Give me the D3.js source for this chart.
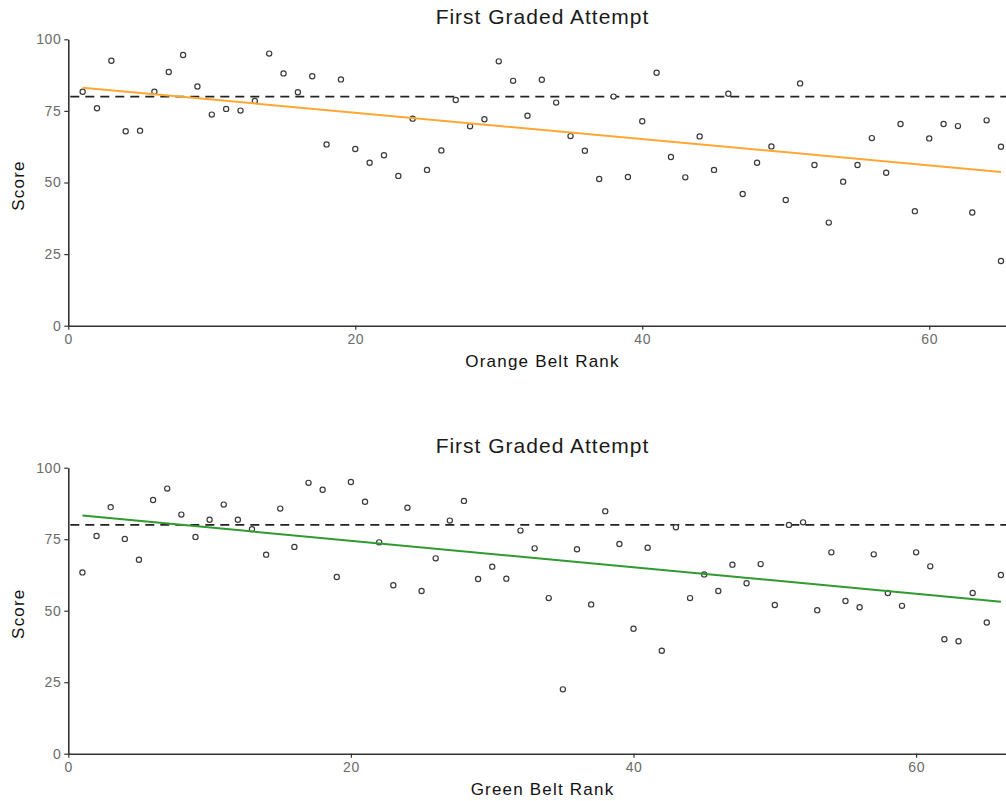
<!DOCTYPE html>
<html>
<head>
<meta charset="utf-8">
<script src="https://cdn.jsdelivr.net/npm/d3@7"></script>
<style>
    body { margin: 0; background: #fff; }
    svg { display: block; font-family: "Liberation Sans", Arial, sans-serif; }
</style>
</head>
<body>
<div id="chart"></div>
<script>
// Data
const orangeRank = [1, 2, 3, 4, 5, 6, 7, 8, 9, 10, 11, 12, 13, 14, 15, 16, 17, 18, 19, 20,
    21, 22, 23, 24, 25, 26, 27, 28, 29, 30, 31, 32, 33, 34, 35, 36, 37, 38, 39, 40,
    41, 42, 43, 44, 45, 46, 47, 48, 49, 50, 51, 52, 53, 54, 55, 56, 57, 58, 59, 60,
    61, 62, 63, 64, 65, 65];
const orangeScore = [81.7, 75.9, 92.5, 67.9, 68.1, 81.7, 88.6, 94.5, 83.5, 73.7,
    75.7, 75.1, 78.5, 95.0, 88.1, 81.5, 87.1, 63.3, 86.0, 61.7,
    56.9, 59.5, 52.3, 72.3, 54.4, 61.2, 78.8, 69.6, 72.1, 92.3,
    85.5, 73.3, 85.9, 77.9, 66.2, 61.1, 51.2, 80.0, 51.9, 71.4,
    88.3, 58.9, 51.8, 66.1, 54.4, 81.0, 46.0, 56.9, 62.6, 43.9,
    84.6, 56.1, 36.0, 50.3, 56.1, 65.5, 53.4, 70.4, 40.0, 65.4,
    70.4, 69.7, 39.5, 71.7, 62.5, 22.6];

const greenRank = [1, 2, 3, 4, 5, 6, 7, 8, 9, 10, 11, 12, 13, 14, 15, 16, 17, 18, 19, 20,
    21, 22, 23, 24, 25, 26, 27, 28, 29, 30, 31, 32, 33, 34, 35, 36, 37, 38, 39, 40,
    41, 42, 43, 44, 45, 46, 47, 48, 49, 50, 51, 52, 53, 54, 55, 56, 57, 58, 59, 60,
    61, 62, 63, 64, 65, 66];
const greenScore = [63.4, 76.1, 86.2, 75.1, 67.8, 88.7, 92.7, 83.6, 75.8, 81.8,
    87.1, 81.8, 78.5, 69.6, 85.7, 72.3, 94.7, 92.3, 61.8, 95.0,
    88.1, 73.9, 58.9, 86.0, 56.9, 68.3, 81.5, 88.4, 61.1, 65.4,
    61.2, 78.0, 71.8, 54.4, 22.5, 71.5, 52.2, 84.8, 73.3, 43.7,
    72.0, 36.0, 79.2, 54.4, 62.7, 56.9, 66.1, 59.6, 66.3, 52.0,
    80.0, 80.9, 50.2, 70.4, 53.4, 51.2, 69.7, 56.2, 51.7, 70.4,
    65.5, 40.0, 39.3, 56.2, 45.9, 62.5];

const xTicks = [0, 20, 40, 60];
const yTicks = [0, 25, 50, 75, 100];
const passMark = 80;

const svg = d3.select("#chart").append("svg")
    .attr("width", 1006)
    .attr("height", 801);

class ScatterPanel {
    constructor(_config) {
        this.config = _config;
        this.data = _config.ranks.map((r, i) => ({rank: r, score: _config.scores[i]}));
        this.initVis();
    }

    initVis() {
        let vis = this;
        const c = vis.config;

        vis.xScale = d3.scaleLinear().domain([0, c.xMax]).range([c.left, 1006]);
        vis.yScale = d3.scaleLinear().domain([0, 100]).range([c.bottom, c.top]);

        vis.g = svg.append("g");

        // axes (theme_classic look)
        const xAxis = vis.g.append("g")
            .attr("transform", `translate(0,${c.bottom})`)
            .call(d3.axisBottom(vis.xScale).tickValues(xTicks).tickSize(4).tickPadding(4).tickSizeOuter(0));
        const yAxis = vis.g.append("g")
            .attr("transform", `translate(${c.left},0)`)
            .call(d3.axisLeft(vis.yScale).tickValues(yTicks).tickSize(4).tickPadding(3).tickSizeOuter(0));

        [xAxis, yAxis].forEach(ax => {
            ax.select(".domain").attr("stroke", "#333").attr("stroke-width", 1.6);
            ax.selectAll(".tick line").attr("stroke", "#333").attr("stroke-width", 1.2);
            ax.selectAll(".tick text")
                .attr("fill", "#6b6b6b")
                .style("font-size", "14px")
                .style("letter-spacing", "0.6px")
                .style("font-family", "'Liberation Sans', Arial, sans-serif");
        });

        // pass mark
        vis.g.append("line")
            .attr("x1", vis.xScale(0) + 2)
            .attr("x2", 1006)
            .attr("y1", vis.yScale(passMark))
            .attr("y2", vis.yScale(passMark))
            .attr("stroke", "#222")
            .attr("stroke-width", 1.6)
            .attr("stroke-dasharray", "9,6");

        // points
        vis.g.selectAll(".pt")
            .data(vis.data)
            .enter().append("circle")
            .attr("class", "pt")
            .attr("cx", d => vis.xScale(d.rank))
            .attr("cy", d => vis.yScale(d.score))
            .attr("r", 2.6)
            .attr("fill", "white")
            .attr("stroke", "#3a3a3a")
            .attr("stroke-width", 1.2);

        // linear fit
        const n = vis.data.length;
        const mx = d3.mean(vis.data, d => d.rank);
        const my = d3.mean(vis.data, d => d.score);
        const slope = d3.sum(vis.data, d => (d.rank - mx) * (d.score - my)) /
            d3.sum(vis.data, d => (d.rank - mx) ** 2);
        const intercept = my - slope * mx;
        const ext = d3.extent(vis.data, d => d.rank);
        vis.g.append("path")
            .datum(ext.map(r => ({rank: r, score: intercept + slope * r})))
            .attr("fill", "none")
            .attr("stroke", c.lineColor)
            .attr("stroke-width", 2)
            .attr("d", d3.line().x(d => vis.xScale(d.rank)).y(d => vis.yScale(d.score)));

        // titles
        vis.g.append("text")
            .attr("x", 542.5)
            .attr("y", c.top - 15)
            .attr("text-anchor", "middle")
            .attr("fill", "#1a1a1a")
            .style("font-size", "21px")
            .style("letter-spacing", "1px")
            .text("First Graded Attempt");

        vis.g.append("text")
            .attr("x", 542.5)
            .attr("y", c.bottom + 41)
            .attr("text-anchor", "middle")
            .attr("fill", "#111")
            .style("font-size", "17px")
            .style("letter-spacing", "1.2px")
            .text(c.xLabel);

        vis.g.append("text")
            .attr("transform", `translate(24,${(c.top + c.bottom) / 2 + 3}) rotate(-90)`)
            .attr("text-anchor", "middle")
            .attr("fill", "#111")
            .style("font-size", "17px")
            .style("letter-spacing", "1.2px")
            .text("Score");
    }
}

new ScatterPanel({
    ranks: orangeRank, scores: orangeScore, xMax: 65.35,
    left: 68.3, top: 39.3, bottom: 325.7,
    lineColor: "#ffa733", xLabel: "Orange Belt Rank"
});

new ScatterPanel({
    ranks: greenRank, scores: greenScore, xMax: 66.36,
    left: 68.3, top: 467.7, bottom: 753.7,
    lineColor: "#2f9a2f", xLabel: "Green Belt Rank"
});
</script>
</body>
</html>
